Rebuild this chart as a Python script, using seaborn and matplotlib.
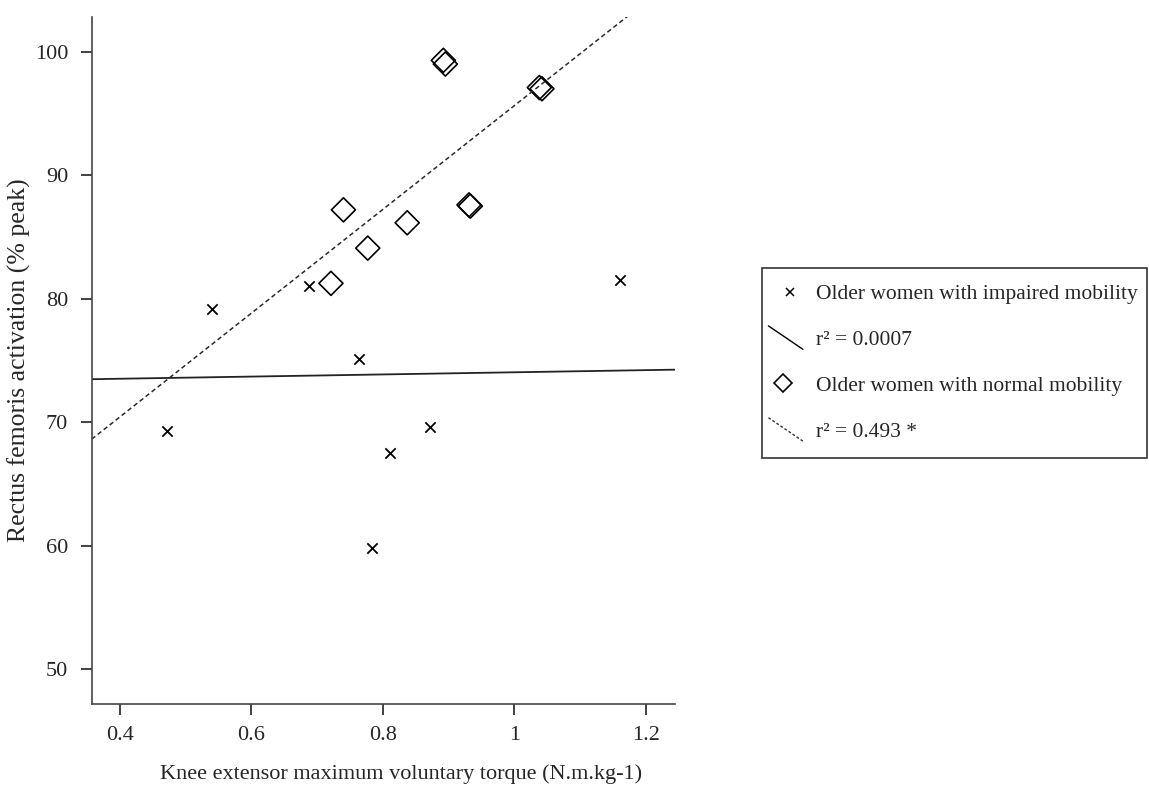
import numpy as np
import pandas as pd
import matplotlib
matplotlib.use("Agg")
import matplotlib.pyplot as plt
import seaborn as sns
from matplotlib.lines import Line2D
from matplotlib.legend_handler import HandlerLine2D

# dados
torque_impaired = [0.471, 0.540, 0.688, 0.764, 0.784, 0.811, 0.872, 1.161]
rf_impaired = [69.3, 79.2, 81.0, 75.1, 59.8, 67.5, 69.6, 81.5]

torque_normal = [0.721, 0.740, 0.777, 0.837, 0.892, 0.895, 0.931, 0.933, 1.038, 1.042]
rf_normal = [81.25, 87.2, 84.1, 86.15, 99.3, 99.0, 87.6, 87.5, 97.1, 97.0]

# reta do grupo com mobilidade reduzida (intercepto, inclinacao)
impaired_fit = (73.18, 0.87)

x_ticks = [0.4, 0.6, 0.8, 1.0, 1.2]
x_ticklabels = ["0.4", "0.6", "0.8", "1", "1.2"]
y_ticks = [50, 60, 70, 80, 90, 100]

labels = ["Older women with impaired mobility", "r² = 0.0007",
          "Older women with normal mobility", "r² = 0.493 *"]

df_imp = pd.DataFrame({"torque": torque_impaired, "rf": rf_impaired})
df_norm = pd.DataFrame({"torque": torque_normal, "rf": rf_normal})

sns.set_style("ticks")
plt.rcParams["font.family"] = ["Liberation Serif", "DejaVu Serif"]

fig = plt.figure(figsize=(11.49, 7.85), dpi=100)
ax = fig.add_axes([0.0798, 0.1032, 0.508, 0.875])
ax.set_xlim(0.357, 1.245)
ax.set_ylim(47.2, 102.8)

# pontos
sns.scatterplot(data=df_imp, x="torque", y="rf", marker="x", s=55,
                color="black", edgecolor=None, linewidth=1.3, ax=ax)
sns.scatterplot(data=df_norm, x="torque", y="rf", marker="D", s=150,
                facecolors="none", edgecolor="black", linewidth=1.2, ax=ax)

# retas de regressao
sns.regplot(data=df_norm, x="torque", y="rf", scatter=False, ci=None,
            truncate=False, color="#2a2a2a",
            line_kws={"ls": (0, (3, 2)), "lw": 1.1}, ax=ax)
ax.axline((0, impaired_fit[0]), slope=impaired_fit[1], color="#222222", lw=1.3)

ax.set_xlim(0.357, 1.245)
ax.set_ylim(47.2, 102.8)
ax.set_xticks(x_ticks)
ax.set_xticklabels(x_ticklabels)
ax.set_yticks(y_ticks)
ax.tick_params(axis="both", labelsize=16, length=8, width=1.3, color="#333333")
ax.tick_params(axis="y", pad=9)
ax.tick_params(axis="x", pad=8)
for s in ["top", "right"]:
    ax.spines[s].set_visible(False)
for s in ["left", "bottom"]:
    ax.spines[s].set_color("#444444")
    ax.spines[s].set_linewidth(1.2)

ax.set_xlabel("Knee extensor maximum voluntary torque (N.m.kg-1)", fontsize=16,
              labelpad=14, x=0.53)
ax.set_ylabel("Rectus femoris activation (% peak)", fontsize=18.5, labelpad=3)


# simbolos da legenda deslocados para a esquerda, linhas inclinadas
class LegendHandler(HandlerLine2D):
    def __init__(self, slant=False, dx=-7, **kw):
        super().__init__(**kw)
        self.slant = slant
        self.dx = dx

    def create_artists(self, legend, orig_handle, xdescent, ydescent,
                       width, height, fontsize, trans):
        if self.slant:
            art = Line2D([-xdescent + self.dx, width - xdescent + self.dx],
                         [height - ydescent + 3, -ydescent - 3])
        else:
            art = Line2D([width / 2 - xdescent + self.dx], [height / 2 - ydescent])
        self.update_prop(art, orig_handle, legend)
        art.set_transform(trans)
        return [art]


h1 = Line2D([], [], marker="x", ls="none", color="black", ms=6, mew=1.1)
h2 = Line2D([], [], color="black", lw=1.0)
h3 = Line2D([], [], marker="D", ls="none", mfc="none", mec="black", ms=9.5, mew=1.2)
h4 = Line2D([], [], color="#333333", lw=1.0, ls=(0, (2, 1.5)))

leg = fig.legend([h1, h2, h3, h4], labels, loc="upper left",
                 bbox_to_anchor=(762 / 1149, (785 - 465) / 785, 385 / 1149, 197 / 785),
                 mode="expand", borderaxespad=0,
                 fontsize=15.5, frameon=True, fancybox=False, numpoints=1,
                 handlelength=1.6, handletextpad=0.15, labelspacing=1.2,
                 borderpad=0.75,
                 handler_map={h1: LegendHandler(dx=-4), h2: LegendHandler(slant=True),
                              h3: LegendHandler(dx=-9), h4: LegendHandler(slant=True)})
leg.get_frame().set_edgecolor("black")
leg.get_frame().set_linewidth(1.2)

fig.savefig("out.png", dpi=100)
